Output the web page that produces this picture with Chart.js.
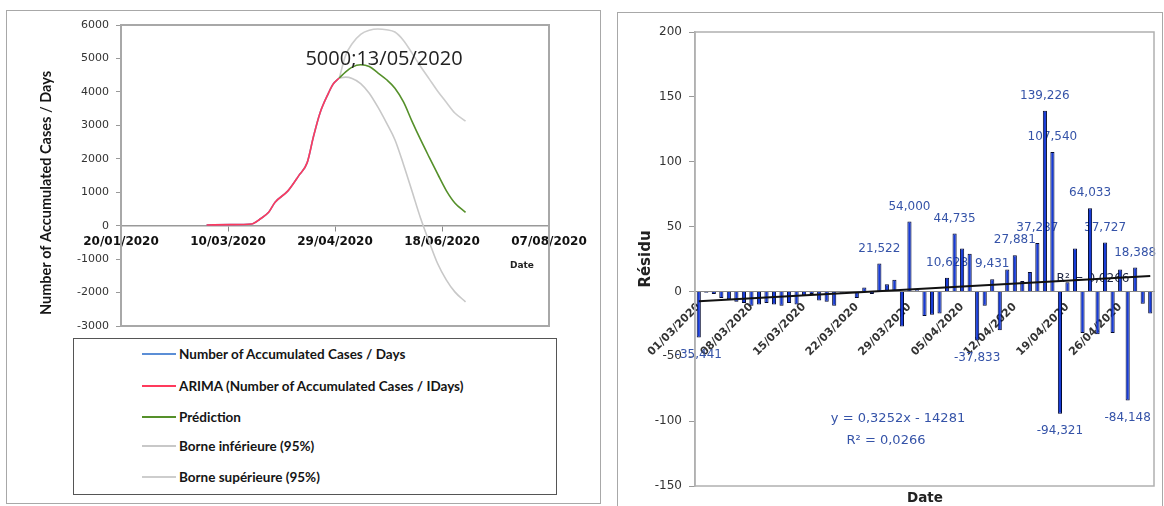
<!DOCTYPE html>
<html>
<head>
<meta charset="utf-8">
<script src="https://cdn.jsdelivr.net/npm/chart.js@4.4.1/dist/chart.umd.min.js"></script>
<style>
  body { margin: 0; background: #fff; width: 1164px; height: 506px; overflow: hidden; position: relative; font-family: 'DejaVu Sans', sans-serif; }
  .panel { position: absolute; border: 1.5px solid #a8a8a8; box-sizing: border-box; }
  #leftPanel { left: 6px; top: 10px; width: 595px; height: 494px; }
  #rightPanel { left: 617px; top: 12px; width: 546px; height: 500px; }
  #leftChart { position: absolute; left: 0; top: 0; }
  #rightChart { position: absolute; left: 612px; top: 0; }
  #legendBox { position: absolute; left: 73px; top: 338px; width: 484px; height: 157px; border: 1.5px solid #555; box-sizing: border-box; background: #fff;
    font-family: Lato, sans-serif; font-weight: bold; font-size: 13.5px; color: #151515; }
  .legendRow { position: absolute; left: 68px; height: 20px; display: flex; align-items: center; white-space: nowrap; }
  .legendRow i { display: inline-block; width: 34px; height: 2px; margin-right: 3px; }
</style>
</head>
<body>
<div class="panel" id="leftPanel"></div>
<div class="panel" id="rightPanel"></div>
<canvas id="leftChart" width="605" height="506"></canvas>
<canvas id="rightChart" width="552" height="506"></canvas>
<div id="legendBox"></div>
<script>
// ---- left chart data (cases / day, ARIMA fit and forecast) ----
const originDate = '20/01/2020';
const xMaxDays = 200;

const arimaDates = ['29/02/2020', '11/03/2020', '21/03/2020', '25/03/2020', '29/03/2020', '01/04/2020', '07/04/2020',
    '12/04/2020', '16/04/2020', '19/04/2020', '22/04/2020', '26/04/2020', '28/04/2020', '01/05/2020'];
const arimaCases = [20, 30, 50, 200, 400, 700, 1040, 1490, 1885, 2680, 3370, 3970, 4220, 4415];
const observedCases = [20, 30, 50, 200, 400, 700, 1040, 1490, 1885, 2680, 3370, 3970, 4220, 4415];

const forecastDates = ['01/05/2020', '04/05/2020', '07/05/2020', '11/05/2020', '15/05/2020', '19/05/2020', '23/05/2020',
    '27/05/2020', '31/05/2020', '04/06/2020', '08/06/2020', '12/06/2020', '16/06/2020', '20/06/2020', '24/06/2020', '29/06/2020'];
const forecastCases = [4415, 4600, 4740, 4810, 4760, 4570, 4370, 4110, 3700, 3120, 2570, 2050, 1540, 1050, 680, 400];
const lowerBound = [4415, 4440, 4400, 4250, 3960, 3550, 3080, 2570, 1830, 1030, 220, -480, -1140, -1620, -1980, -2280];
const upperBound = [4415, 5100, 5440, 5720, 5840, 5880, 5860, 5790, 5540, 5160, 4760, 4390, 4020, 3690, 3370, 3125];

const peakNote = '5000;13/05/2020';

// ---- right chart data (residuals) ----
const residuDates = [
    '01/03/2020', '02/03/2020', '03/03/2020', '04/03/2020', '05/03/2020', '06/03/2020', '07/03/2020', '08/03/2020',
    '09/03/2020', '10/03/2020', '11/03/2020', '12/03/2020', '13/03/2020', '14/03/2020', '15/03/2020', '16/03/2020',
    '17/03/2020', '18/03/2020', '19/03/2020', '20/03/2020', '21/03/2020', '22/03/2020', '23/03/2020', '24/03/2020',
    '25/03/2020', '26/03/2020', '27/03/2020', '28/03/2020', '29/03/2020', '30/03/2020', '31/03/2020', '01/04/2020',
    '02/04/2020', '03/04/2020', '04/04/2020', '05/04/2020', '06/04/2020', '07/04/2020', '08/04/2020', '09/04/2020',
    '10/04/2020', '11/04/2020', '12/04/2020', '13/04/2020', '14/04/2020', '15/04/2020', '16/04/2020', '17/04/2020',
    '18/04/2020', '19/04/2020', '20/04/2020', '21/04/2020', '22/04/2020', '23/04/2020', '24/04/2020', '25/04/2020',
    '26/04/2020', '27/04/2020', '28/04/2020', '29/04/2020', '30/04/2020'];
const residus = [
    -35.441, -1, -2, -5, -6, -8, -9, -11, -10, -9,
    -10, -11, -9, -10, -3, -2, -7, -8, -11, -1,
    -1, -5, 3, -2, 21.522, 5.5, 9, -27, 54.000, 1,
    -19, -18, -17, 10.628, 44.735, 33, 29, -37.833, -11, 9.431,
    -30, 17, 27.881, 8, 15, 37.287, 139.226, 107.540, -94.321, 7,
    33, -32, 64.033, -33, 37.727, -32, 17, -84.148, 18.388, -9.5,
    -17];
const labeledBars = [0, 24, 28, 33, 34, 37, 39, 42, 45, 46, 47, 48, 52, 54, 57, 58];
const trendStart = -7.65;   // trend line value on 01/03/2020
const trendEnd = 11.87;     // trend line value on 30/04/2020
const trendEquation = 'y = 0,3252x - 14281';
const trendR2 = 'R² = 0,0266';

// dd/mm/yyyy -> days since originDate
function toDays(s) {
    const p = s.split('/').map(Number);
    const o = originDate.split('/').map(Number);
    return (Date.UTC(p[2], p[1] - 1, p[0]) - Date.UTC(o[2], o[1] - 1, o[0])) / 86400000;
}
function fromDays(d) {
    const o = originDate.split('/').map(Number);
    const dt = new Date(Date.UTC(o[2], o[1] - 1, o[0]) + d * 86400000);
    const pad = n => String(n).padStart(2, '0');
    return pad(dt.getUTCDate()) + '/' + pad(dt.getUTCMonth() + 1) + '/' + dt.getUTCFullYear();
}
function points(dates, values) {
    return dates.map((d, i) => ({ x: toDays(d), y: values[i] }));
}

Chart.defaults.font.family = "'DejaVu Sans', sans-serif";
Chart.defaults.color = '#333';

// Frame, peak note, axis titles of the left chart
const leftDecor = {
    id: 'leftDecor',
    afterDraw(chart) {
        const { ctx, chartArea: a } = chart;
        ctx.save();
        ctx.strokeStyle = '#a8a8a8';
        ctx.lineWidth = 2;
        ctx.strokeRect(a.left, a.top, a.right - a.left, a.bottom - a.top);

        ctx.fillStyle = '#222';
        ctx.font = "20px 'Open Sans'";
        ctx.textAlign = 'center';
        ctx.textBaseline = 'middle';
        ctx.fillText(peakNote, 384, 59);

        ctx.font = "bold 9px 'DejaVu Sans'";
        ctx.fillStyle = '#222';
        ctx.fillText('Date', 522, 266);

        ctx.translate(46, 193);
        ctx.rotate(-Math.PI / 2);
        ctx.font = 'bold 14.5px Lato';
        ctx.fillStyle = '#151515';
        ctx.fillText('Number of Accumulated Cases / Days', 0, 0);
        ctx.restore();
    }
};

const leftChart = new Chart(document.getElementById('leftChart'), {
    type: 'scatter',
    data: {
        datasets: [
            { label: 'Number of Accumulated Cases /  Days', data: points(arimaDates, observedCases), borderColor: '#5b8ed6', order: 5 },
            { label: 'ARIMA (Number of Accumulated Cases / IDays)', data: points(arimaDates, arimaCases), borderColor: '#ff3a5c', order: 1 },
            { label: 'Prédiction', data: points(forecastDates, forecastCases), borderColor: '#55902a', order: 1 },
            { label: 'Borne inférieure (95%)', data: points(forecastDates, lowerBound), borderColor: '#c8c8c8', order: 3 },
            { label: 'Borne supérieure (95%)', data: points(forecastDates, upperBound), borderColor: '#cdcdcd', order: 3 }
        ].map(ds => Object.assign(ds, { showLine: true, pointRadius: 0, borderWidth: 1.6, cubicInterpolationMode: 'monotone' }))
    },
    options: {
        responsive: false,
        animation: false,
        layout: { padding: { left: 0, right: 56, top: 25, bottom: 180 } },
        plugins: { legend: { display: false }, tooltip: { enabled: false } },
        scales: {
            x: {
                type: 'linear',
                position: { y: 0 },
                min: 0,
                max: xMaxDays,
                ticks: {
                    stepSize: 50,
                    maxRotation: 0,
                    autoSkip: false,
                    padding: 4,
                    color: '#111',
                    font: { size: 12, weight: 'bold' },
                    callback: v => fromDays(v)
                },
                grid: { drawOnChartArea: false, tickLength: 5, color: '#888' },
                border: { color: '#999', width: 1.5 }
            },
            y: {
                min: -3000,
                max: 6000,
                afterFit: s => { s.width = 121; },
                ticks: { stepSize: 1000, padding: 7, font: { size: 11 }, color: '#333', callback: v => String(v) },
                grid: { drawOnChartArea: false, tickLength: 5, color: '#999' },
                border: { color: '#a8a8a8', width: 2 }
            }
        }
    },
    plugins: [leftDecor]
});

// HTML legend built from the left chart datasets
const legendBox = document.getElementById('legendBox');
const legendTops = [5, 37, 68, 97, 128];
leftChart.data.datasets.forEach((ds, i) => {
    const row = document.createElement('div');
    row.className = 'legendRow';
    row.style.top = legendTops[i] + 'px';
    const sample = document.createElement('i');
    sample.style.background = ds.borderColor;
    row.appendChild(sample);
    row.appendChild(document.createTextNode(ds.label));
    legendBox.appendChild(row);
});

// Data labels (drawn under the bars) and frame/texts of the right chart
const rightDecor = {
    id: 'rightDecor',
    beforeDatasetsDraw(chart) {
        const { ctx } = chart;
        const meta = chart.getDatasetMeta(0);
        ctx.save();
        ctx.font = "12px 'DejaVu Sans'";
        ctx.fillStyle = '#3553a8';
        ctx.textAlign = 'center';
        ctx.textBaseline = 'middle';
        labeledBars.forEach(i => {
            const el = meta.data[i];
            if (!el) return;
            const v = residus[i];
            const y = v >= 0 ? el.y - 15 : el.y + 17;
            ctx.fillText(v.toFixed(3).replace('.', ','), el.x, y);
        });
        ctx.fillStyle = '#1c2440';
        ctx.fillText(trendR2, 1093 - 612, 279);
        ctx.restore();
    },
    afterDraw(chart) {
        const { ctx, chartArea: a } = chart;
        ctx.save();
        ctx.strokeStyle = '#b0b0b0';
        ctx.lineWidth = 1.5;
        ctx.strokeRect(a.left, a.top, a.right - a.left, a.bottom - a.top);
        ctx.textAlign = 'center';
        ctx.textBaseline = 'middle';
        ctx.fillStyle = '#3553a8';
        ctx.font = "13px 'DejaVu Sans'";
        ctx.fillText(trendEquation, 898 - 612, 419);
        ctx.fillText(trendR2, 886 - 612, 441);
        ctx.fillStyle = '#222';
        ctx.font = "bold 13.5px 'DejaVu Sans'";
        ctx.fillText('Date', 925 - 612, 498);
        ctx.restore();
    }
};

new Chart(document.getElementById('rightChart'), {
    type: 'bar',
    data: {
        labels: residuDates,
        datasets: [
            {
                label: 'Résidu',
                data: residus,
                backgroundColor: '#173bd6',
                borderColor: '#040a2e',
                borderWidth: 1,
                barPercentage: 0.55,
                categoryPercentage: 1,
                order: 1
            },
            {
                type: 'line',
                label: 'Linéaire (Résidu)',
                data: [{ x: residuDates[0], y: trendStart }, { x: residuDates[residuDates.length - 1], y: trendEnd }],
                borderColor: '#111',
                borderWidth: 2,
                pointRadius: 0,
                order: 0
            }
        ]
    },
    options: {
        responsive: false,
        animation: false,
        layout: { padding: { left: 0, right: 10, top: 32, bottom: 20 } },
        plugins: { legend: { display: false }, tooltip: { enabled: false } },
        scales: {
            x: {
                position: { y: 0 },
                ticks: {
                    autoSkip: false,
                    minRotation: 45,
                    maxRotation: 45,
                    padding: 1,
                    color: '#333',
                    font: { size: 11, weight: 'bold' },
                    callback: (v, i) => (i % 7 === 0 ? residuDates[i] : null)
                },
                grid: { display: false },
                border: { color: '#888', width: 1 }
            },
            y: {
                min: -150,
                max: 200,
                afterFit: s => { s.width = 83; },
                title: { display: true, text: 'Résidu', color: '#222', font: { size: 15, weight: 'bold' }, padding: { top: 25 } },
                ticks: { stepSize: 50, padding: 7, font: { size: 12 }, color: '#333' },
                grid: { drawOnChartArea: false, tickLength: 6, color: '#999' },
                border: { color: '#b0b0b0', width: 1.5 }
            }
        }
    },
    plugins: [rightDecor]
});
</script>
</body>
</html>
